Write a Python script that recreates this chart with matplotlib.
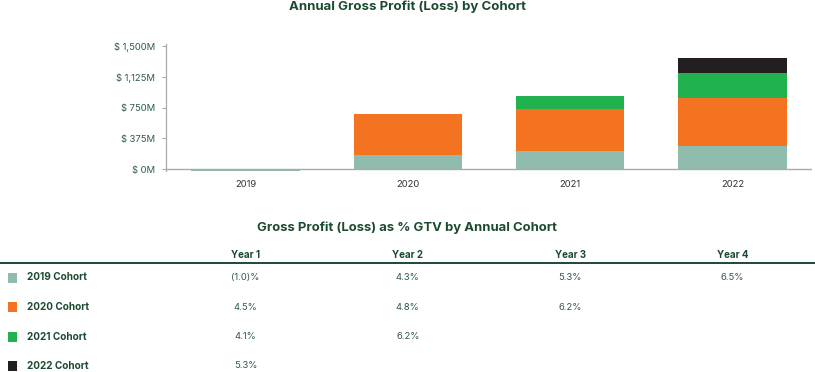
import matplotlib
matplotlib.use("Agg")
import matplotlib.pyplot as plt
import matplotlib.transforms as mtransforms
import numpy as np

plt.rcParams['font.family'] = ['Inter', 'DejaVu Sans']

# ---- data ----
years = ["2019", "2020", "2021", "2022"]
cohorts = ["2019 Cohort", "2020 Cohort", "2021 Cohort", "2022 Cohort"]
cohort_2019 = [-20, 170, 219, 283]
cohort_2020 = [0, 500, 511, 584]
cohort_2021 = [0, 0, 158, 309]
cohort_2022 = [0, 0, 0, 182]
yticks = [0, 375, 750, 1125, 1500]
ytick_labels = ["$ 0M", "$ 375M", "$ 750M", "$ 1,125M", "$ 1,500M"]
table_headers = ["Year 1", "Year 2", "Year 3", "Year 4"]
pct_2019 = ["(1.0)%", "4.3%", "5.3%", "6.5%"]
pct_2020 = ["4.5%", "4.8%", "6.2%"]
pct_2021 = ["4.1%", "6.2%"]
pct_2022 = ["5.3%"]

colors = ["#8fbcad", "#f37321", "#21b14e", "#231f20"]
dark = "#1b4a31"
tickc = "#2f5c45"

W, H = 815, 372
fig = plt.figure(figsize=(W / 100, H / 100), dpi=100)

def fy(px):
    return 1 - px / H

# bar axes (0 at y=169.3 px, 1500 at y=46 px)
ppm = (169.3 - 46.0) / 1500
ymin, ymax = -28, 1520
ax_top = 46.0 - (ymax - 1500) * ppm
ax_bot = 169.3 - ymin * ppm
ax = fig.add_axes([166 / W, fy(ax_bot), (812 - 166) / W, (ax_bot - ax_top) / H])
x = np.arange(len(years))
series = [cohort_2019, cohort_2020, cohort_2021, cohort_2022]
bottom = np.zeros(len(years))
for s, c in zip(series, colors):
    s = np.array(s, dtype=float)
    ax.bar(x, s, width=0.667, bottom=bottom, color=c, linewidth=0, zorder=2)
    bottom = bottom + np.clip(s, 0, None)

ax.set_xlim(-0.49, 3.49)
ax.set_ylim(ymin, ymax)
ax.set_yticks(yticks)
ax.set_yticklabels(ytick_labels, fontsize=6.8, color=tickc)
ax.set_xticks(x)
ax.set_xticklabels(years, fontsize=6.8, color="#333333")
ax.tick_params(axis='x', length=0, pad=6)
ax.tick_params(axis='y', length=3, width=0.8, color="#aaaaaa", pad=5)
for sp in ["top", "right", "bottom"]:
    ax.spines[sp].set_visible(False)
ax.spines["left"].set_color("#aaaaaa")
ax.spines["left"].set_linewidth(0.9)
ax.spines["left"].set_bounds(ymin + 8, ymax)
ax.axhline(0, color="#aaaaaa", linewidth=1.0, zorder=3)

fig.text(407 / W, fy(7), "Annual Gross Profit (Loss) by Cohort", ha="center", va="center",
         fontsize=9.5, fontweight="bold", color=dark)

# table
fig.text(407 / W, fy(227.5), "Gross Profit (Loss) as % GTV by Annual Cohort", ha="center",
         va="center", fontsize=9.4, fontweight="bold", color=dark)
trans = mtransforms.blended_transform_factory(ax.transData, fig.transFigure)
for i, h in enumerate(table_headers):
    fig.text(i, fy(255), h, transform=trans, ha="center", va="center",
             fontsize=7.0, fontweight="bold", color=dark)
fig.add_artist(plt.Line2D([0, 1], [fy(262.5), fy(262.5)], transform=fig.transFigure,
                          color=dark, linewidth=1.4))
rows = [pct_2019, pct_2020, pct_2021, pct_2022]
row_y = [277.5, 307, 336.5, 366]
for r, (name, vals, c) in enumerate(zip(cohorts, rows, colors)):
    yy = row_y[r]
    fig.add_artist(plt.Rectangle((8 / W, fy(yy + 5)), 9 / W, 10 / H, transform=fig.transFigure,
                                 color=c, linewidth=0))
    fig.text(27 / W, fy(yy), name, ha="left", va="center", fontsize=7.2,
             fontweight="bold", color=dark)
    for i, v in enumerate(vals):
        fig.text(i, fy(yy), v, transform=trans, ha="center", va="center",
                 fontsize=6.8, color=tickc)

fig.savefig("out.png", dpi=100)
